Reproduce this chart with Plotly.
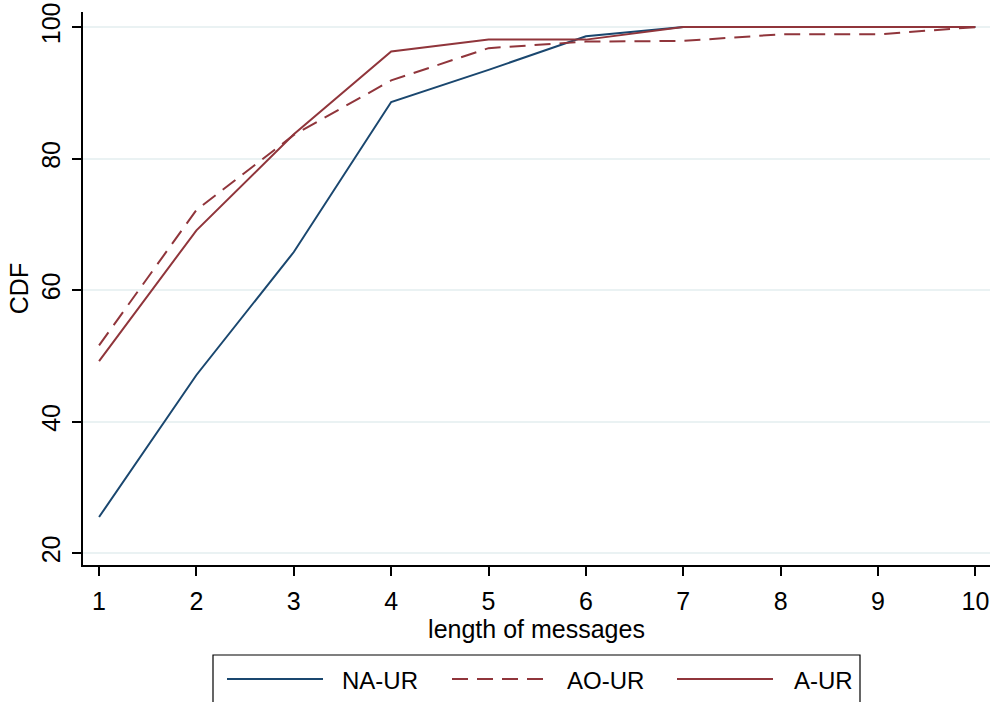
import plotly.graph_objects as go

# Message length (x) and cumulative share of messages (%) per scheme
lengths = [1, 2, 3, 4, 5, 6, 7, 8, 9, 10]
na_ur = [25.5, 47.1, 65.8, 88.6, 93.5, 98.6, 100, 100, 100, 100]
ao_ur = [51.6, 72.2, 83.6, 91.9, 96.8, 97.8, 97.9, 98.9, 98.9, 100]
a_ur = [49.2, 69.1, 83.7, 96.3, 98.1, 98.1, 100, 100, 100, 100]

y_ticks = [20, 40, 60, 80, 100]
series_names = ["NA-UR", "AO-UR", "A-UR"]

NAVY = "#1a476f"
MAROON = "#90353b"
FONT = "Liberation Sans, Arial, sans-serif"

W, H = 992, 702
L, R, T, B = 83, 2, 12, 137
PW, PH = W - L - R, H - T - B

fig = go.Figure()
fig.add_trace(go.Scatter(x=lengths, y=na_ur, mode="lines", name=series_names[0],
                         line=dict(color=NAVY, width=2)))
fig.add_trace(go.Scatter(x=lengths, y=ao_ur, mode="lines", name=series_names[1],
                         line=dict(color=MAROON, width=2, dash="16px,9px")))
fig.add_trace(go.Scatter(x=lengths, y=a_ur, mode="lines", name=series_names[2],
                         line=dict(color=MAROON, width=2)))


def px_x(p):
    return (p - L) / PW


def px_y(p):
    return (H - B - p) / PH


# Boxed legend below the plot, with long line samples
shapes = [dict(type="rect", xref="paper", yref="paper",
               x0=px_x(213), x1=px_x(860), y0=px_y(655), y1=px_y(710),
               line=dict(color="black", width=1.2), fillcolor="white", layer="above")]
samples = [(227, 323, NAVY, "solid", 340),
           (452, 548, MAROON, "16px,9px", 565),
           (677, 773, MAROON, "solid", 792)]
annotations = []
for (x0, x1, col, dash, tx), name in zip(samples, series_names):
    shapes.append(dict(type="line", xref="paper", yref="paper",
                       x0=px_x(x0), x1=px_x(x1), y0=px_y(679), y1=px_y(679),
                       line=dict(color=col, width=2, dash=dash), layer="above"))
    annotations.append(dict(text=name, xref="paper", yref="paper",
                            x=px_x(tx), y=px_y(680), xanchor="left", yanchor="middle",
                            showarrow=False, font=dict(family=FONT, size=24, color="black")))

fig.update_layout(
    width=W, height=H,
    margin=dict(l=L, r=R, t=T, b=B),
    paper_bgcolor="white", plot_bgcolor="white",
    showlegend=False,
    font=dict(family=FONT, size=24, color="black"),
    shapes=shapes, annotations=annotations,
    xaxis=dict(range=[0.835, 10.15], tickvals=lengths, ticktext=[str(v) for v in lengths],
               showgrid=False, zeroline=False, showline=True, linecolor="black", linewidth=1.5,
               ticks="outside", ticklen=9, tickwidth=1.5, tickcolor="black",
               ticklabelstandoff=4,
               tickfont=dict(family=FONT, size=25),
               title=dict(text="length of messages", standoff=1,
                          font=dict(family=FONT, size=25))),
    yaxis=dict(range=[18.2, 102.3], tickvals=y_ticks, ticktext=[str(v) for v in y_ticks],
               tickangle=-90,
               showgrid=True, gridcolor="#eaf2f3", gridwidth=1.5,
               zeroline=False, showline=True, linecolor="black", linewidth=1.5,
               ticks="outside", ticklen=9, tickwidth=1.5, tickcolor="black",
               ticklabelstandoff=2,
               tickfont=dict(family=FONT, size=25),
               title=dict(text="CDF", standoff=2, font=dict(family=FONT, size=25))),
)

fig.write_html("out.html")
